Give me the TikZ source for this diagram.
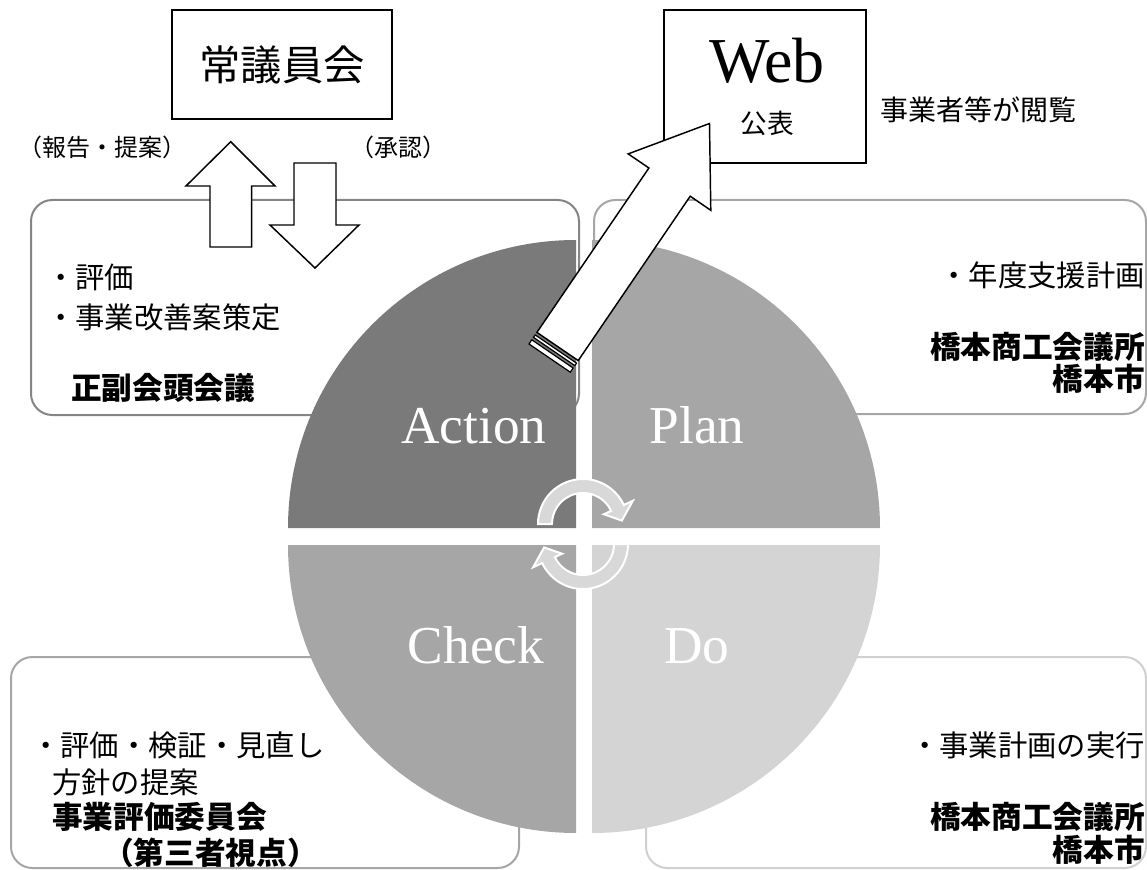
\documentclass[tikz,border=0pt]{standalone}
\usepackage{fontspec}
\newfontfamily\jp{Noto Sans CJK JP}
\newfontfamily\lat{Liberation Serif}
\usetikzlibrary{calc}
\definecolor{cA}{HTML}{7A7A7A}
\definecolor{cP}{HTML}{A6A6A6}
\definecolor{cD}{HTML}{D4D4D4}
\definecolor{cArr}{HTML}{D8D8D8}
\definecolor{bA}{HTML}{858585}
\definecolor{bP}{HTML}{A6A6A6}
\definecolor{bD}{HTML}{D0D0D0}
\tikzset{
  jtext/.style={font=\jp\fontsize{22}{26}\selectfont, inner sep=0pt},
  jbold/.style={font=\jp\bfseries\fontsize{23}{27}\selectfont, inner sep=0pt},
  qlabel/.style={font=\lat\fontsize{40}{44}\selectfont, text=white, inner sep=0pt, anchor=base},
  roundbox/.style={line width=1.5pt, rounded corners=16pt, fill=white},
  blockarrow/.style={draw=black, fill=white, line width=1.1pt, line join=miter},
  cyclearrow/.style={fill=cArr, draw=white, line width=1.5pt},
}
\begin{document}
\begin{tikzpicture}[x=0.75pt,y=-0.75pt]
\useasboundingbox (0,0) rectangle (1147,870);
% rounded frames
\draw[roundbox, draw=bA] (31,200) rectangle (579,415);
\draw[roundbox, draw=bP] (594,200) rectangle (1146,414);
\draw[roundbox, draw=bP] (11,657) rectangle (519,868);
\draw[roundbox, draw=bD] (646,657) rectangle (1146,868);
% quadrants
\fill[cA] (576,528) -- (288,528) arc[start angle=180, end angle=270, radius=288] -- cycle;
\fill[cP] (592,528) -- (592,240) arc[start angle=270, end angle=360, radius=288] -- cycle;
\fill[cP] (576,545) -- (576,833) arc[start angle=90, end angle=180, radius=288] -- cycle;
\fill[cD] (592,545) -- (880,545) arc[start angle=0, end angle=90, radius=288] -- cycle;
% cycle arrows
\coordinate (c1) at (583,524);
\coordinate (c2) at (583,544);
\draw[cyclearrow] ($(c1)+(180:45)$) arc[start angle=180, end angle=335, radius=45]
  -- ($(c1)+(335:55)$) -- ($(c1)+(355:39)$) -- ($(c1)+(335:23)$) -- ($(c1)+(335:31)$)
  arc[start angle=335, end angle=180, radius=31] -- cycle;
\draw[cyclearrow] ($(c2)+(0:45)$) arc[start angle=0, end angle=155, radius=45]
  -- ($(c2)+(155:55)$) -- ($(c2)+(175:39)$) -- ($(c2)+(155:23)$) -- ($(c2)+(155:31)$)
  arc[start angle=155, end angle=0, radius=31] -- cycle;
% quadrant labels
\node[qlabel] (act) at (474,443) {Action};
\node[qlabel] (pla) at (697,443) {Plan};
\node[qlabel] (che) at (476,663) {Check};
\node[qlabel] (do) at (697,663) {Do};
% top boxes
\node[draw=black, line width=1.1pt, minimum width=165pt, minimum height=81.75pt, inner sep=0pt,
  font=\jp\fontsize{31}{34}\selectfont] (jog) at (282,64.5) {常議員会};
\node[draw=black, fill=white, line width=1.1pt, minimum width=151.5pt, minimum height=114.75pt, inner sep=0pt] (web) at (765,86.5) {};
\node[font=\lat\fontsize{48}{52}\selectfont, inner sep=0pt, anchor=base] (webt) at (767,83) {Web};
\node[font=\jp\fontsize{20}{24}\selectfont, inner sep=0pt] (pub) at (767,123) {公表};
\node[font=\jp\fontsize{21}{24}\selectfont, inner sep=0pt, anchor=west] (etsu) at (880,110) {事業者等が閲覧};
\node[font=\jp\fontsize{18}{22}\selectfont, inner sep=0pt] (hok) at (102,147) {（報告・提案）};
\node[font=\jp\fontsize{18}{22}\selectfont, inner sep=0pt] (sho) at (398,147) {（承認）};
% up / down arrows
\draw[blockarrow] (210,247) -- (210,186) -- (186,186) -- (230.7,141.7) -- (275,186) -- (251.7,186) -- (251.7,247) -- cycle;
\draw[blockarrow] (294,163) -- (336,163) -- (336,225) -- (359,225) -- (315,268) -- (270,225) -- (294,225) -- cycle;
% web arrow with striped tail
\draw[blockarrow] (536.9,332.4) -- (648.9,168.0) -- (628.2,153.9) -- (709.5,123.5) -- (710.8,210.3) -- (690.2,196.2) -- (578.2,360.6) -- cycle;
\draw[blockarrow, line width=0.9pt] (535.2,334.9) -- (576.5,363.1) -- (574.8,365.6) -- (533.5,337.4) -- cycle;
\draw[blockarrow, line width=0.9pt] (531.8,339.8) -- (573.1,368.0) -- (570.3,372.2) -- (529.0,344.0) -- cycle;
% frame texts
\node[jtext, anchor=west] (tl1) at (46,277) {・評価};
\node[jtext, anchor=west] (tl2) at (46,317) {・事業改善案策定};
\node[jbold, anchor=west] (tl3) at (71,388) {正副会頭会議};
\node[jtext, anchor=east] (tr1) at (1145,275) {・年度支援計画};
\node[jbold, anchor=east] (tr2) at (1145,347) {橋本商工会議所};
\node[jbold, anchor=east] (tr3) at (1145,379) {橋本市};
\node[jtext, anchor=west] (bl1) at (31,745) {・評価・検証・見直し};
\node[jtext, anchor=west] (bl2) at (52,782) {方針の提案};
\node[jbold, anchor=west] (bl3) at (52,817) {事業評価委員会};
\node[jbold, anchor=east] (bl4) at (318,853) {（第三者視点）};
\node[jtext, anchor=east] (br1) at (1145,745) {・事業計画の実行};
\node[jbold, anchor=east] (br2) at (1145,817) {橋本商工会議所};
\node[jbold, anchor=east] (br3) at (1145,850) {橋本市};
\end{tikzpicture}
\end{document}
